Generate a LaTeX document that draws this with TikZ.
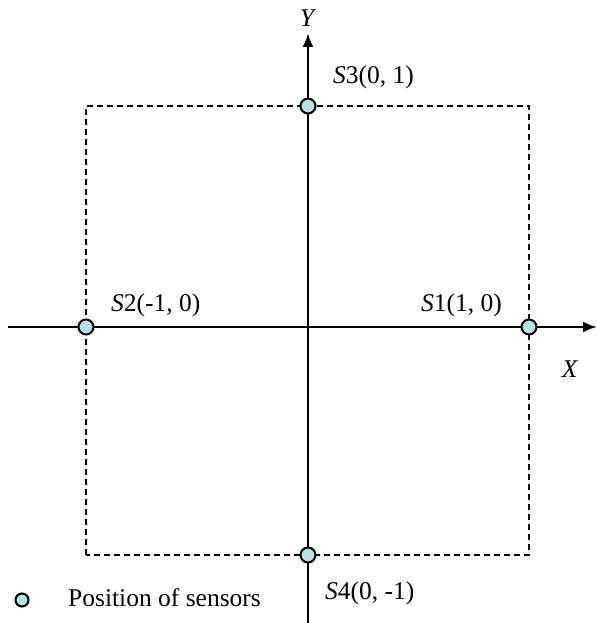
\documentclass[tikz,border=0pt]{standalone}
\usepackage{fontspec}
\setmainfont{Liberation Serif}
\usetikzlibrary{arrows.meta}
\definecolor{sensorfill}{RGB}{184,224,224}
\begin{document}
\begin{tikzpicture}[
  x=1pt, y=1pt,
  axis/.style={line width=2.6pt, -{Latex[length=14pt,width=11pt]}},
  frame/.style={line width=1.4pt, dash pattern=on 6pt off 4pt},
  sensor/.style={circle, draw, line width=2pt, fill=sensorfill, minimum size=15pt, inner sep=0pt},
  lbl/.style={font=\fontsize{25.5}{30}\selectfont, inner sep=0pt}
]
\useasboundingbox (0,0) rectangle (595,623);
% axes
\coordinate (xl) at (8,296);
\coordinate (xr) at (597,296);
\coordinate (yb) at (308,0);
\coordinate (yt) at (308,590);
\draw[axis] (xl) -- (xr);
\draw[axis] (yb) -- (yt);
% dashed square
\draw[frame] (86,68) rectangle (529,517);
% sensors
\node[sensor] (s1) at (529,296) {};
\node[sensor] (s2) at (86,296) {};
\node[sensor] (s3) at (308,517) {};
\node[sensor] (s4) at (308,68) {};
% labels
\node[lbl] (ylab) at (308,605) {\textit{Y}};
\node[lbl] (xlab) at (570,254) {\textit{X}};
\node[lbl, anchor=west] (l3) at (333,546) {\textit{S}3(0, 1)};
\node[lbl, anchor=west] (l2) at (111,318) {\textit{S}2(-1, 0)};
\node[lbl, anchor=west] (l1) at (421,318) {\textit{S}1(1, 0)};
\node[lbl, anchor=west] (l4) at (325,30) {\textit{S}4(0, -1)};
% legend
\node[sensor, minimum size=13pt] (key) at (22,23) {};
\node[lbl, anchor=west] (keytext) at (68,25) {Position of sensors};
\end{tikzpicture}
\end{document}
